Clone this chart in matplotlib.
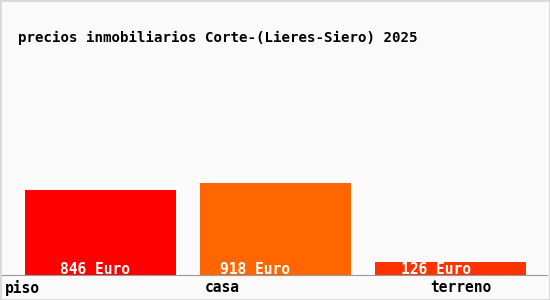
import matplotlib.pyplot as plt
from matplotlib.patches import Rectangle

categories = ['piso', 'casa', 'terreno']
values = [846, 918, 126]
value_labels = ['846 Euro', '918 Euro', '126 Euro']
colors = ['#ff0000', '#ff6600', '#ff3300']

fig = plt.figure(figsize=(5.5, 3), dpi=100)
fig.patch.set_facecolor('#fafafa')
fig.patches.append(Rectangle((0, 0), 1, 1, transform=fig.transFigure, fill=False,
                             edgecolor='#d8d8d8', linewidth=2))

ax = fig.add_axes([0, 25 / 300, 547 / 550, 275 / 300])
ax.set_facecolor('none')
x = range(len(categories))
ax.bar(x, values, width=151 / 175, color=colors)
ax.set_xlim(-100.5 / 175, (547 - 100.5) / 175)
ax.set_ylim(0, 2750)

# value labels, left edge in pixels as in the original
value_x = [60, 220, 401]
for vx, lab in zip(value_x, value_labels):
    ax.text((vx - 100.5) / 175, 60, lab, ha='left', va='center', color='white',
            family='DejaVu Sans Mono', fontsize=10.5, fontweight='bold')

for s in ['top', 'right', 'left']:
    ax.spines[s].set_visible(False)
ax.spines['bottom'].set_color('#999999')
ax.set_xticks([])
ax.set_yticks([])

# category labels below the axis
label_x = [5, 205, 430]
for lx, c in zip(label_x, categories):
    fig.text(lx / 550, 1 - 288 / 300, c, ha='left', va='center',
             family='DejaVu Sans Mono', fontsize=10.5, fontweight='bold', color='black')

fig.text(18 / 550, 1 - 38 / 300, 'precios inmobiliarios Corte-(Lieres-Siero) 2025',
         ha='left', va='center', family='DejaVu Sans Mono', fontsize=10.2,
         fontweight='bold', color='black')

fig.savefig('out.png', dpi=100, facecolor=fig.get_facecolor())
